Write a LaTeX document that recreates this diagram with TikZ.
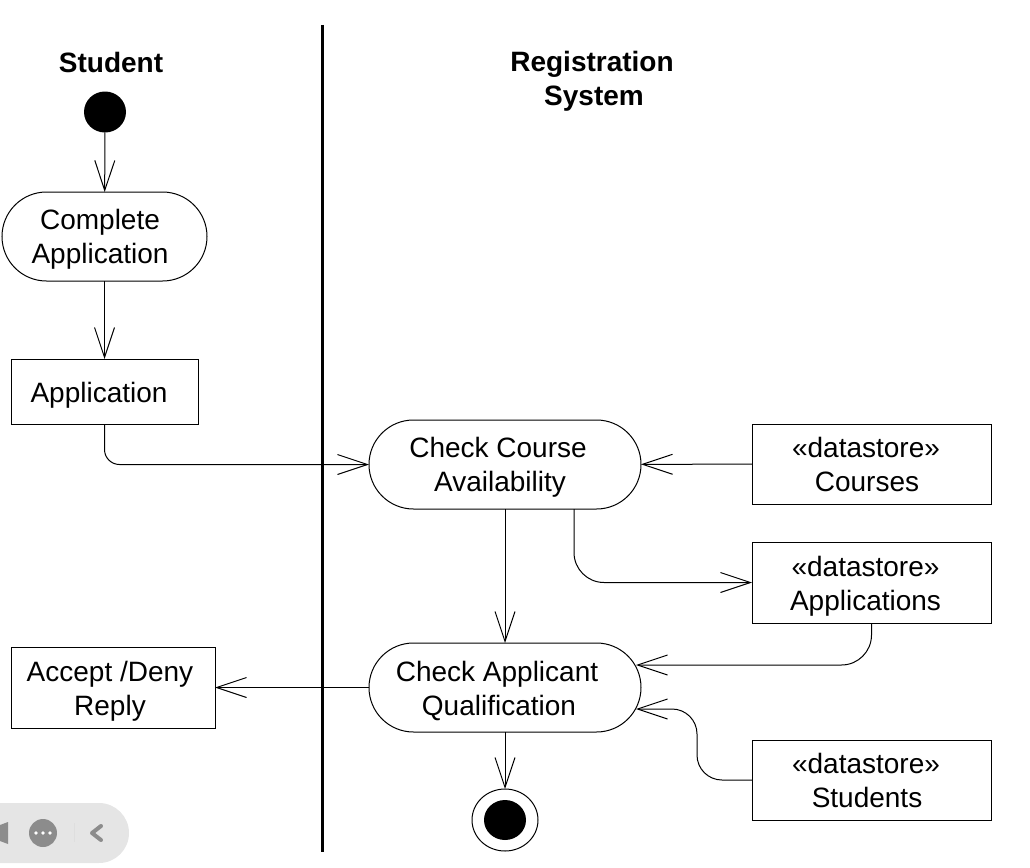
\documentclass[tikz,border=0pt]{standalone}
\usepackage{fontspec}
\setmainfont{Liberation Sans}
\usetikzlibrary{arrows.meta,shapes.misc,shapes.geometric}
\tikzset{
  x=1pt,y=-1pt,
  every node/.style={inner sep=0pt,outer sep=0pt},
  txt/.style={font=\fontsize{28}{34}\selectfont,align=center,text=black},
  boldtxt/.style={font=\fontsize{28}{35}\selectfont\bfseries,align=center,text=black},
  actionbox/.style={draw,rounded rectangle,minimum width=#1,minimum height=89pt},
  objbox/.style={draw,rectangle},
  flow/.style={draw,-{Straight Barb[length=30pt,width=20pt,line width=1pt]}},
  startdot/.style={ellipse,fill=black,minimum width=42pt,minimum height=41pt},
  enddot/.style={ellipse,draw,minimum width=66pt,minimum height=62pt},
  toolicon/.style={fill=black!45,draw=none},
}
\begin{document}
\begin{tikzpicture}[line width=1pt]
\useasboundingbox (0,0) rectangle (1030,867);
% toolbar
\fill[black!10,rounded corners=30pt] (-40,803) rectangle (129,863);
\fill[toolicon] (0,825) -- (8,822) -- (8,844) -- (0,841) -- cycle;
\fill[toolicon] (43,833) circle[radius=14pt];
\fill[white] (36,833) circle[radius=1.8pt] (43,833) circle[radius=1.8pt] (50,833) circle[radius=1.8pt];
\draw[black!13,line width=0.8pt] (74,823) -- (74,842);
\draw[black!45,line width=4pt,line cap=round,line join=round] (101,826) -- (92,833) -- (101,840);
% swimlane divider
\draw[line width=3pt] (322,25) -- (322,852);
% headers
\node[boldtxt] (hStudent) at (111,62) {Student};
\node[boldtxt] (hReg) at (592,64) {Registration};
\node[boldtxt] (hSys) at (594,99) {System};
% nodes
\node[startdot] (start) at (105,112) {};
\node[actionbox=205pt] (complete) at (104.5,236.5) {};
\node[txt] (completeT) at (100,239) {Complete\\Application};
\node[objbox,minimum width=187pt,minimum height=65pt] (app) at (104.5,391.5) {};
\node[txt] (appT) at (99,395) {Application};
\node[actionbox=272pt] (course) at (505,464.5) {};
\node[txt] (courseT) at (498,467) {Check Course\\\hspace*{4pt}Availability};
\node[actionbox=272pt] (qual) at (505,687.5) {};
\node[txt] (qualT) at (497,691) {Check Applicant\\\hspace*{4pt}Qualification};
\node[objbox,minimum width=204pt,minimum height=81pt] (reply) at (113,687.5) {};
\node[txt] (replyT) at (110,691) {Accept /Deny\\Reply};
\node[objbox,minimum width=239pt,minimum height=80pt] (courses) at (871.5,464) {};
\node[txt] (coursesT) at (866,464) {«datastore»\\\hspace*{2pt}Courses};
\node[objbox,minimum width=239pt,minimum height=81pt] (apps) at (871.5,582.5) {};
\node[txt] (appsT) at (865.5,586) {«datastore»\\Applications};
\node[objbox,minimum width=239pt,minimum height=80pt] (students) at (871.5,780) {};
\node[txt] (studentsT) at (866,780) {«datastore»\\\hspace*{2pt}Students};
\node[enddot] (final) at (505,820) {};
\node[startdot,minimum height=40pt] (finalIn) at (505,820) {};
% anchor helpers
\coordinate (qualA) at (636,665);
\coordinate (qualB) at (636,709);
\coordinate (courseOut) at (574,509);
\coordinate (bendTop) at (697,709);
% connectors
\draw[flow] (start) -- (complete);
\draw[flow] (complete) -- (app);
\draw[flow,rounded corners=15pt] (app.south) |- (course.west);
\draw[flow] (courses) -- (course);
\draw[flow] (course) -- (qual);
\draw[flow,rounded corners=30pt] (courseOut) |- (apps.west);
\draw[flow,rounded corners=30pt] (apps.south) |- (qualA);
\draw[flow,rounded corners=25pt] (students.west) -| (bendTop) -- (qualB);
\draw[flow] (qual) -- (reply);
\draw[flow] (qual.south) -- (final.north);
\end{tikzpicture}
\end{document}
